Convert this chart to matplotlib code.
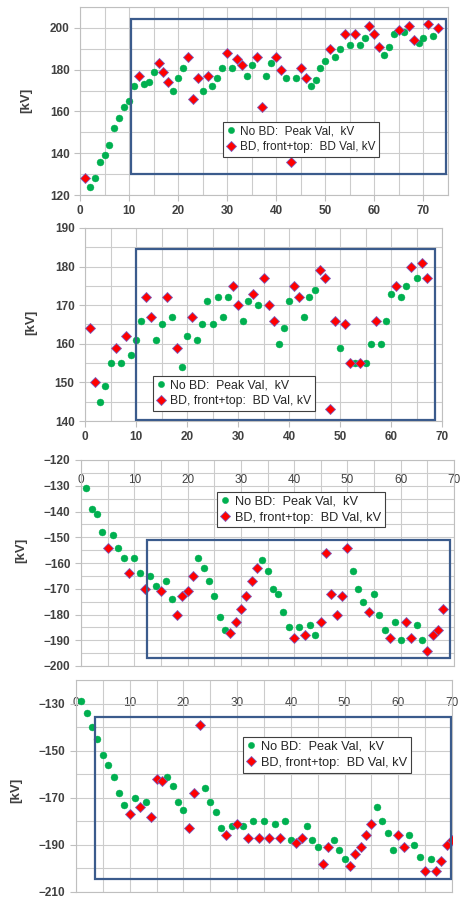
import matplotlib
matplotlib.use("Agg")
import matplotlib.pyplot as plt
from matplotlib.patches import Rectangle
from matplotlib.ticker import MultipleLocator

# ---------------- data ----------------
p1_green_x = [2,3,4,5,6,7,8,9,10,11,13,14,15,19,20,21,25,27,28,29,31,34,35,38,39,42,44,47,48,49,50,52,53,55,57,58,62,63,64,66,69,70,72]
p1_green_y = [124,128,136,139,144,152,157,162,165,172,173,174,179,170,176,181,170,172,176,181,181,177,182,177,183,176,176,172,175,181,184,186,190,192,192,195,187,191,197,198,193,195,196]
p1_red_x = [1,12,16,17,18,22,23,24,26,30,32,33,36,37,40,41,43,45,46,51,54,56,59,60,61,65,67,68,71,73]
p1_red_y = [128,177,183,179,174,186,166,176,177,188,185,182,186,162,186,180,136,181,176,190,197,197,201,197,191,199,201,194,202,200]

p2_green_x = [3,4,5,7,9,10,11,14,15,17,19,20,22,23,24,25,26,27,28,31,32,34,38,39,40,43,44,45,50,53,55,56,58,59,60,62,63,65]
p2_green_y = [145,149,155,155,157,161,166,161,165,167,154,162,161,165,171,165,172,167,172,166,171,170,160,164,171,167,172,174,159,155,155,160,160,166,173,172,175,177]
p2_red_x = [1,2,6,8,12,13,16,18,21,29,30,33,35,36,37,41,42,46,47,48,49,51,52,54,57,61,64,66,67]
p2_red_y = [164,150,159,162,172,167,172,159,167,175,170,173,177,170,166,175,172,179,177,143,166,165,155,155,166,175,180,181,177]

p3_green_x = [1,2,3,4,6,7,8,10,11,13,14,16,17,22,23,24,25,26,27,34,35,36,37,38,39,41,43,44,51,52,53,55,56,57,59,60,63,64]
p3_green_y = [-131,-139,-141,-148,-149,-154,-158,-158,-164,-165,-169,-167,-174,-158,-162,-167,-173,-181,-186,-159,-163,-170,-172,-179,-185,-185,-184,-188,-163,-170,-175,-172,-180,-186,-183,-190,-184,-190]
p3_red_x = [5,9,12,15,18,19,20,21,28,29,30,31,32,33,40,42,45,46,47,48,49,50,54,58,61,62,65,66,67,68]
p3_red_y = [-154,-164,-170,-171,-180,-173,-171,-165,-187,-183,-178,-173,-167,-162,-189,-188,-183,-156,-172,-180,-173,-154,-179,-189,-183,-189,-194,-188,-186,-178]

p4_green_x = [1,2,3,4,5,6,7,8,9,11,13,17,18,19,20,24,25,26,27,29,31,33,35,37,39,40,43,44,45,48,49,50,56,57,58,59,62,63,64,66]
p4_green_y = [-129,-134,-140,-145,-152,-156,-161,-168,-173,-170,-172,-161,-165,-172,-175,-166,-172,-176,-183,-182,-182,-180,-180,-181,-180,-188,-182,-188,-191,-188,-192,-196,-174,-180,-185,-192,-186,-190,-195,-196]
p4_red_x = [10,12,14,15,16,21,22,23,28,30,32,34,36,38,41,42,46,47,51,52,53,54,55,60,61,65,67,68,69,70]
p4_red_y = [-177,-174,-178,-162,-163,-183,-168,-139,-186,-181,-187,-187,-187,-187,-189,-187,-198,-191,-199,-194,-191,-186,-181,-186,-191,-201,-201,-197,-190,-188]

label_green = "No BD:  Peak Val,  kV"
label_red = "BD, front+top:  BD Val, kV"
ylabel = "[kV]"

# ---------------- style ----------------
plt.rcParams['font.family'] = ['Liberation Sans', 'DejaVu Sans']
W, H = 466, 898
fig = plt.figure(figsize=(W / 100, H / 100), dpi=100)

GREEN = '#00b050'
RED = '#ff0000'
RED_EDGE = '#7b5fc0'
BOX = '#3b5b8c'
GRID = '#cccccc'
TXT = '#404040'


def make_axes(left, right, top, bottom):
    return fig.add_axes([left / W, 1 - bottom / H, (right - left) / W, (bottom - top) / H])


def style(ax, xlim, ylim, ymajor, ygrid, top_axis=False, pad_top=-19):
    ax.set_xlim(*xlim)
    ax.set_ylim(*ylim)
    ax.xaxis.set_major_locator(MultipleLocator(10))
    ax.xaxis.set_minor_locator(MultipleLocator(5))
    ax.yaxis.set_major_locator(MultipleLocator(ymajor))
    ax.yaxis.set_minor_locator(MultipleLocator(ygrid))
    ax.grid(True, which='both', color=GRID, lw=0.8)
    ax.set_axisbelow(True)
    for s in ax.spines.values():
        s.set_color('#bfbfbf')
        s.set_linewidth(0.8)
    ax.tick_params(axis='both', which='both', colors='#bfbfbf', labelcolor=TXT,
                   labelsize=8.5, length=4, width=0.8)
    ax.tick_params(axis='both', which='minor', length=0)
    for lab in ax.get_xticklabels() + ax.get_yticklabels():
        lab.set_fontweight('bold')
    if top_axis:
        ax.tick_params(axis='x', which='major', top=True, bottom=False,
                       labeltop=True, labelbottom=False, direction='in',
                       length=0, pad=pad_top)


def draw(ax, gx, gy, rx, ry):
    ax.plot(gx, gy, 'o', color=GREEN, ms=5.0, mec=GREEN, mew=0.3, label=label_green, zorder=3)
    ax.plot(rx, ry, 'D', color=RED, ms=5.2, mec=RED_EDGE, mew=0.6, label=label_red, zorder=4)


def box(ax, x0, x1, y0, y1):
    ax.add_patch(Rectangle((x0, y0), x1 - x0, y1 - y0, fill=False,
                           edgecolor=BOX, lw=1.6, zorder=5))


def legend(ax, x, y, fs):
    leg = ax.legend(loc='upper left', bbox_to_anchor=(x, y), borderaxespad=0,
                    fontsize=fs, frameon=True, fancybox=False, framealpha=1,
                    edgecolor='#404040', handlelength=0.7, handletextpad=0.4,
                    borderpad=0.3, labelspacing=0.3, markerscale=0.9)
    leg.get_frame().set_linewidth(0.8)
    leg.set_zorder(6)
    for t in leg.get_texts():
        t.set_color('#262626')


def ylab(ax, x, y):
    ax.set_ylabel(ylabel, fontsize=9.5, fontweight='bold', color=TXT)
    ax.yaxis.set_label_coords(x, y)


# Panel 1
ax1 = make_axes(80, 448, 7, 195)
draw(ax1, p1_green_x, p1_green_y, p1_red_x, p1_red_y)
style(ax1, (0, 75), (120, 210), 20, 10)
box(ax1, 10.4, 74.5, 130.1, 204.3)
legend(ax1, 0.389, 0.388, 8.5)
ylab(ax1, -0.13, 0.505)

# Panel 2
ax2 = make_axes(85, 442, 228, 421)
draw(ax2, p2_green_x, p2_green_y, p2_red_x, p2_red_y)
style(ax2, (0, 70), (140, 190), 10, 5)
box(ax2, 10, 68.7, 140.3, 184.5)
legend(ax2, 0.19, 0.233, 8.8)
ylab(ax2, -0.134, 0.51)

# Panel 3
ax3 = make_axes(81, 454, 460, 666)
draw(ax3, p3_green_x, p3_green_y, p3_red_x, p3_red_y)
style(ax3, (0, 70), (-200, -120), 10, 5, top_axis=True, pad_top=-19)
box(ax3, 12.4, 69.3, -197, -151.1)
legend(ax3, 0.365, 0.845, 9.2)
ylab(ax3, -0.145, 0.563)

# Panel 4
ax4 = make_axes(76, 452, 680, 892)
draw(ax4, p4_green_x, p4_green_y, p4_red_x, p4_red_y)
style(ax4, (0, 70), (-210, -120), 20, 10, top_axis=True, pad_top=-21)
ax4.set_yticks([-130, -150, -170, -190, -210])
for lab in ax4.get_yticklabels():
    lab.set_fontweight('bold')
box(ax4, 3.5, 69.8, -204.4, -135.9)
legend(ax4, 0.444, 0.731, 9.2)
ylab(ax4, -0.144, 0.48)

fig.savefig('out.png', dpi=100)
